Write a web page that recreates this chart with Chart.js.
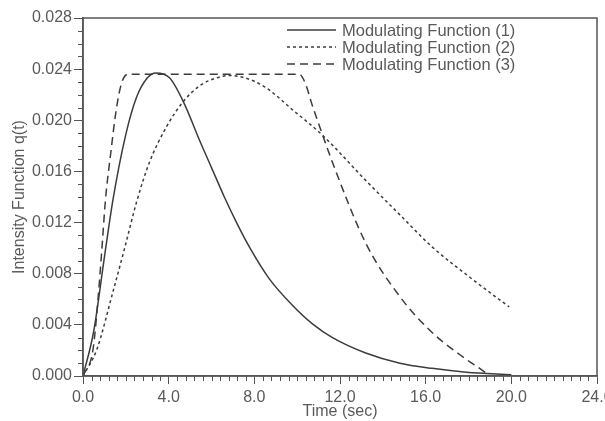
<!DOCTYPE html>
<html>
<head>
<meta charset="utf-8">
<script src="https://cdn.jsdelivr.net/npm/chart.js@4.4.1/dist/chart.umd.min.js"></script>
<style>
  body { margin: 0; background: #fff; }
  canvas { display: block; }
</style>
</head>
<body>
<canvas id="chart" width="605" height="421"></canvas>
<script>
// values
const time1 = [0, 0.5, 1.0, 1.4, 2.0, 2.5, 3.0, 3.4, 4.05, 4.7, 5.45, 6.0, 6.6, 7.2, 7.8, 8.7, 9.8, 10.7, 11.65, 13.2, 14.8, 16.3, 17.9, 20.0];
const func1 = [0, 0.0035, 0.0093, 0.0138, 0.0189, 0.0218, 0.0233, 0.0237, 0.0233, 0.0214, 0.0184, 0.0163, 0.0140, 0.0119, 0.0100, 0.0076, 0.0055, 0.0041, 0.0030, 0.0018, 0.0010, 0.0006, 0.0003, 0.0001];

const time2 = [0, 0.65, 1.4, 1.96, 2.5, 3.1, 3.9, 4.65, 5.45, 6.2, 6.85, 7.6, 8.5, 9.8, 11.2, 13.2, 14.8, 16.3, 18.0, 19.9];
const func2 = [0, 0.0021, 0.0066, 0.0101, 0.0136, 0.0167, 0.0195, 0.0214, 0.0227, 0.0233, 0.0235, 0.0233, 0.0226, 0.0208, 0.0188, 0.0153, 0.0126, 0.0101, 0.0078, 0.0054];

const time3 = [0, 0.47, 0.7, 0.88, 1.05, 1.3, 1.55, 1.8, 2.1, 10.1, 10.4, 10.7, 11.2, 11.65, 13.2, 14.8, 16.3, 17.9, 18.6, 19.0];
const func3 = [0, 0.0021, 0.0060, 0.0099, 0.0138, 0.0175, 0.0208, 0.0229, 0.0236, 0.0236, 0.0228, 0.0212, 0.0188, 0.0167, 0.0104, 0.0062, 0.0034, 0.0013, 0.0005, 0];

const seriesNames = ["Modulating Function (1)", "Modulating Function (2)", "Modulating Function (3)"];
const xTicks = [0, 4, 8, 12, 16, 20, 24];
const yTicks = [0, 0.004, 0.008, 0.012, 0.016, 0.020, 0.024, 0.028];

const lineColor = "#3c3c3c";
const textColor = "#5a5a5a";
const font = { family: "'Liberation Sans', Arial, sans-serif", size: 16 };

function toPoints(xs, ys) {
  return xs.map((x, i) => ({ x: x, y: ys[i] }));
}

// minor ticks, frame and the legend inside the plot
const extras = {
  id: "extras",
  afterDraw(chart) {
    const ctx = chart.ctx;
    const area = chart.chartArea;
    const xs = chart.scales.x;
    const ys = chart.scales.y;
    ctx.save();
    ctx.strokeStyle = "#555";
    ctx.lineWidth = 1;
    ctx.beginPath();
    for (let i = 1; i < 60; i++) {
      if (i % 10 === 0) continue;
      const px = Math.round(xs.getPixelForValue(i * 0.4)) + 0.5;
      ctx.moveTo(px, area.bottom);
      ctx.lineTo(px, area.bottom + 5);
    }
    for (let i = 1; i < 28; i++) {
      if (i % 4 === 0) continue;
      const py = Math.round(ys.getPixelForValue(i * 0.001)) + 0.5;
      ctx.moveTo(area.left - 5, py);
      ctx.lineTo(area.left, py);
    }
    ctx.stroke();
    ctx.lineWidth = 1.5;
    ctx.strokeRect(area.left, area.top, area.right - area.left, area.bottom - area.top);

    // legend
    ctx.font = "16.5px " + font.family;
    ctx.textBaseline = "middle";
    ctx.fillStyle = textColor;
    chart.data.datasets.forEach((ds, i) => {
      const y = 30 + i * 17;
      ctx.strokeStyle = lineColor;
      ctx.lineWidth = 1.5;
      ctx.setLineDash(ds.borderDash || []);
      ctx.beginPath();
      ctx.moveTo(287, y);
      ctx.lineTo(336, y);
      ctx.stroke();
      ctx.setLineDash([]);
      ctx.fillText(seriesNames[i], 342, y + 1);
    });
    ctx.restore();
  }
};

new Chart(document.getElementById("chart"), {
  type: "line",
  data: {
    datasets: [
      { label: seriesNames[0], data: toPoints(time1, func1), borderDash: [] },
      { label: seriesNames[1], data: toPoints(time2, func2), borderDash: [3, 3] },
      { label: seriesNames[2], data: toPoints(time3, func3), borderDash: [8, 5] }
    ].map((d) => Object.assign(d, {
      borderColor: lineColor,
      borderWidth: 1.5,
      pointRadius: 0,
      fill: false,
      cubicInterpolationMode: "monotone"
    }))
  },
  options: {
    responsive: false,
    animation: false,
    devicePixelRatio: 1,
    layout: { autoPadding: false, padding: { left: 10, right: 8, top: 18, bottom: 0 } },
    plugins: { legend: { display: false }, tooltip: { enabled: false } },
    scales: {
      x: {
        type: "linear",
        min: 0,
        max: 24,
        afterBuildTicks: (s) => { s.ticks = xTicks.map((v) => ({ value: v })); },
        afterFit: (s) => { s.height = 45; s.paddingLeft = 0; s.paddingRight = 0; },
        grid: { drawOnChartArea: false, tickLength: 8, color: "#555", lineWidth: 1 },
        border: { color: "#555", width: 1.5 },
        ticks: { color: textColor, font: font, padding: 4, maxRotation: 0, callback: (v) => v.toFixed(1) },
        title: { display: true, text: "Time (sec)", color: textColor, font: font, padding: 0 }
      },
      y: {
        min: 0,
        max: 0.028,
        afterBuildTicks: (s) => { s.ticks = yTicks.map((v) => ({ value: v })); },
        afterFit: (s) => { s.width = 73; s.paddingTop = 0; s.paddingBottom = 0; },
        grid: { drawOnChartArea: false, tickLength: 9, color: "#555", lineWidth: 1 },
        border: { color: "#555", width: 1.5 },
        ticks: { color: textColor, font: font, padding: 2, callback: (v) => v.toFixed(3) },
        title: { display: true, text: "Intensity Function q(t)", color: textColor, font: font, padding: 0 }
      }
    }
  },
  plugins: [extras]
});
</script>
</body>
</html>
